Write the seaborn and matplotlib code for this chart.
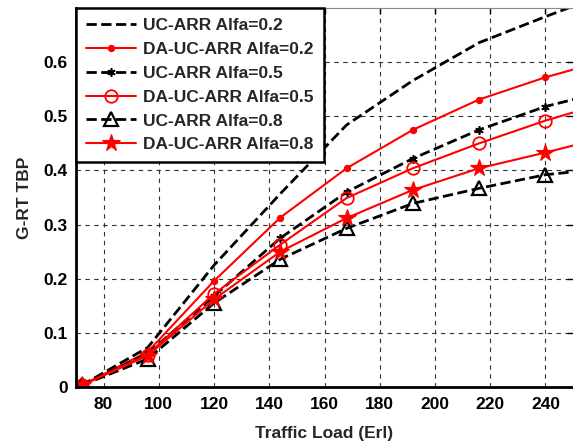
import matplotlib
matplotlib.use("Agg")
import matplotlib.pyplot as plt
import seaborn as sns
import pandas as pd

# Traffic load (Erl) sample points
traffic_load = [72, 96, 120, 144, 168, 192, 216, 240, 264]

# G-RT TBP for each scheme
uc_arr_02 = [0.003, 0.073, 0.225, 0.357, 0.484, 0.566, 0.636, 0.684, 0.730]
da_uc_arr_02 = [0.003, 0.065, 0.196, 0.313, 0.404, 0.475, 0.531, 0.572, 0.606]
uc_arr_05 = [0.003, 0.062, 0.168, 0.275, 0.360, 0.422, 0.475, 0.518, 0.549]
da_uc_arr_05 = [0.003, 0.060, 0.172, 0.263, 0.349, 0.404, 0.450, 0.492, 0.528]
uc_arr_08 = [0.003, 0.052, 0.155, 0.236, 0.293, 0.339, 0.367, 0.392, 0.405]
da_uc_arr_08 = [0.003, 0.058, 0.162, 0.250, 0.312, 0.364, 0.404, 0.433, 0.464]

series_labels = [
    "UC-ARR Alfa=0.2",
    "DA-UC-ARR Alfa=0.2",
    "UC-ARR Alfa=0.5",
    "DA-UC-ARR Alfa=0.5",
    "UC-ARR Alfa=0.8",
    "DA-UC-ARR Alfa=0.8",
]
series_values = [uc_arr_02, da_uc_arr_02, uc_arr_05, da_uc_arr_05, uc_arr_08, da_uc_arr_08]

x_ticks = [80, 100, 120, 140, 160, 180, 200, 220, 240]
y_ticks = [0, 0.1, 0.2, 0.3, 0.4, 0.5, 0.6]

df = pd.DataFrame({
    "load": traffic_load * len(series_labels),
    "tbp": [v for vals in series_values for v in vals],
    "scheme": [lab for lab in series_labels for _ in traffic_load],
})

sns.set_style("white")
plt.rcParams["font.family"] = ["Liberation Sans", "DejaVu Sans"]
plt.rcParams["font.weight"] = "bold"

black_dash = dict(color="black", linestyle="--", linewidth=2.0)
red_solid = dict(color="#ff0000", linestyle="-", linewidth=1.5)

styles = {
    "UC-ARR Alfa=0.2": dict(**black_dash),
    "DA-UC-ARR Alfa=0.2": dict(**red_solid, marker="o", markersize=4.5,
                               markerfacecolor="#ff0000", markeredgecolor="#ff0000",
                               markeredgewidth=0.8),
    "UC-ARR Alfa=0.5": dict(**black_dash, marker=(6, 2, 0), markersize=6,
                            markerfacecolor="black", markeredgecolor="black",
                            markeredgewidth=1.2),
    "DA-UC-ARR Alfa=0.5": dict(**red_solid, marker="o", markersize=9,
                               markerfacecolor="none", markeredgecolor="#ff0000",
                               markeredgewidth=1.3),
    "UC-ARR Alfa=0.8": dict(**black_dash, marker="^", markersize=10,
                            markerfacecolor="none", markeredgecolor="black",
                            markeredgewidth=1.6),
    "DA-UC-ARR Alfa=0.8": dict(**red_solid, marker="*", markersize=13,
                               markerfacecolor="#ff0000", markeredgecolor="#ff0000",
                               markeredgewidth=0.8),
}

fig = plt.figure(figsize=(5.73, 4.43), dpi=100)
ax = fig.add_axes([76 / 573, 1 - 387 / 443, 1 - 76 / 573, (387 - 8) / 443])

for lab in series_labels:
    sub = df[df["scheme"] == lab]
    sns.lineplot(data=sub, x="load", y="tbp", ax=ax, label=lab, **styles[lab])

ax.set_xlim(70, 250)
ax.set_ylim(0, 0.7)
ax.set_xticks(x_ticks)
ax.set_yticks(y_ticks)
ax.set_xticklabels([str(t) for t in x_ticks], fontsize=12.5, fontweight="bold")
ax.set_yticklabels(["0" if t == 0 else f"{t:.1f}" for t in y_ticks], fontsize=12.5, fontweight="bold")
ax.set_xlabel("Traffic Load (Erl)", fontsize=12.5, fontweight="bold", labelpad=10)
ax.set_ylabel("G-RT TBP", fontsize=12.5, fontweight="bold", labelpad=8)

ax.grid(True, color="#333333", linestyle=(0, (4, 4)), linewidth=0.8)
ax.tick_params(direction="in", length=4, width=1, colors="black",
               top=True, right=True)
ax.tick_params(axis="x", pad=7)
ax.tick_params(axis="y", pad=6)

for side in ("left", "bottom"):
    ax.spines[side].set_linewidth(2.0)
    ax.spines[side].set_color("black")
ax.spines["top"].set_linewidth(0.8)
ax.spines["top"].set_color("#888888")
ax.spines["right"].set_visible(False)

leg = ax.legend(loc="upper left", borderaxespad=0, fancybox=False, framealpha=1,
                edgecolor="black", handlelength=2.9, handletextpad=0.4,
                labelspacing=0.5, borderpad=0.58,
                prop={"size": 12.5, "weight": "bold"})
leg.get_frame().set_linewidth(1.8)

fig.savefig("out.png", dpi=100)
